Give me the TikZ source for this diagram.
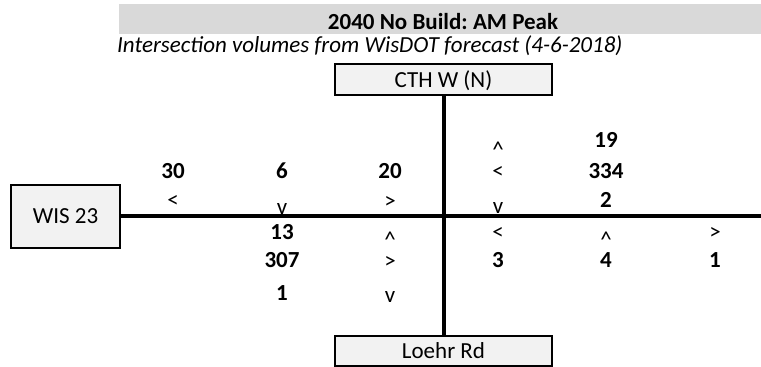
\documentclass[tikz,border=0pt]{standalone}
\usepackage{fontspec}
\setmainfont{Carlito}
\usetikzlibrary{positioning}
\definecolor{boxgray}{RGB}{242,242,242}
\definecolor{bargray}{RGB}{217,217,217}
\frenchspacing

\begin{document}
\begin{tikzpicture}[
    x=1pt, y=-1pt,
    box/.style={rectangle, draw=black, line width=2pt, fill=boxgray, inner sep=0pt, text height=15pt, text depth=0pt, font=\fontsize{23}{27}\selectfont},
    road/.style={line width=4pt},
    vol/.style={anchor=base, inner sep=0pt, font=\fontsize{23}{27}\selectfont\bfseries},
    turn/.style={anchor=base, inner sep=0pt, font=\fontsize{23}{27}\selectfont}
]
\useasboundingbox (0,0) rectangle (761,367);

% Title bar
\fill[bargray] (119,4) rectangle (761,34);
\node[vol] (title) at (443,29.5) {2040 No Build: AM Peak};
\node[turn, anchor=base west, font=\fontsize{23}{27}\selectfont\itshape] (subtitle) at (117,52) {Intersection volumes from WisDOT forecast (4-6-2018)};

% Road names
\node[box, minimum width=217pt, minimum height=31pt] (cth) at (443.5,79.5) {CTH W (N)};
\node[box, minimum width=109pt, minimum height=63pt] (wis) at (65.5,216) {WIS 23};
\node[box, minimum width=217pt, minimum height=30pt] (loehr) at (443.5,351) {Loehr Rd};

% Roads
\coordinate (east) at (761,216);
\draw[road] (cth) -- (loehr);
\draw[road] (wis) -- (east);

% NW quadrant
\node[vol] (nw1) at (173,178) {30};
\node[vol] (nw2) at (282,178) {6};
\node[vol] (nw3) at (390,178) {20};
\node[turn] (nw1a) at (173,207) {<};
\node[turn] (nw2a) at (282,214) {v};
\node[turn] (nw3a) at (390,208) {>};

% SW quadrant
\node[vol] (sw1) at (282,239) {13};
\node[vol] (sw2) at (282,267) {307};
\node[vol] (sw3) at (282,300) {1};
\node[turn] (sw1a) at (390,247) {\textasciicircum};
\node[turn] (sw2a) at (390,268) {>};
\node[turn] (sw3a) at (390,302) {v};

% NE quadrant
\node[turn] (ne1a) at (498,157) {\textasciicircum};
\node[turn] (ne2a) at (498,178) {<};
\node[turn] (ne3a) at (498,213) {v};
\node[vol] (ne1) at (606,147) {19};
\node[vol] (ne2) at (606,178) {334};
\node[vol] (ne3) at (606,207) {2};

% SE quadrant
\node[turn] (se1a) at (498,239) {<};
\node[vol] (se1) at (498,267) {3};
\node[turn] (se2a) at (606,247) {\textasciicircum};
\node[vol] (se2) at (606,267) {4};
\node[turn] (se3a) at (715,239) {>};
\node[vol] (se3) at (715,267) {1};

\end{tikzpicture}
\end{document}
